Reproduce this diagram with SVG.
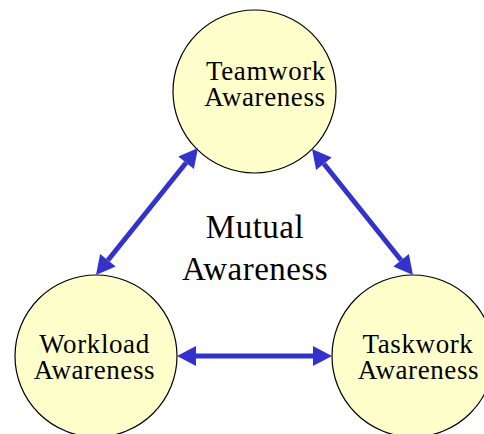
<svg xmlns="http://www.w3.org/2000/svg" width="484" height="434" viewBox="0 0 484 434">
  <style>
    .node { fill: #ffffcc; stroke: #000000; stroke-width: 1.2; }
    .label { font-family: "Liberation Serif", "Times New Roman", serif; font-size: 27px; letter-spacing: 0.6px; fill: #000000; text-anchor: middle; }
    .title { font-family: "Liberation Serif", "Times New Roman", serif; font-size: 33px; letter-spacing: 0.5px; fill: #000000; text-anchor: middle; }
    .link { stroke: #3333cc; stroke-width: 5; fill: none; marker-start: url(#head); marker-end: url(#head); }
  </style>
  <defs>
    <marker id="head" markerUnits="userSpaceOnUse" markerWidth="20" markerHeight="22" viewBox="0 -11 20 22" refX="0" refY="0" orient="auto-start-reverse" overflow="visible">
      <path d="M0,-10 L19,0 L0,10 Z" fill="#3333cc"/>
    </marker>
  </defs>

  <rect width="484" height="434" fill="#ffffff"/>

  <g id="center-label">
    <text class="title" x="255" y="238">Mutual</text>
    <text class="title" x="255" y="280">Awareness</text>
  </g>

  <g id="teamwork">
    <circle class="node" cx="254.5" cy="91.5" r="81.5"/>
    <text class="label" x="266" y="80">Teamwork</text>
    <text class="label" x="265" y="106">Awareness</text>
  </g>

  <g id="workload">
    <circle class="node" cx="96" cy="356" r="81"/>
    <text class="label" x="94.5" y="353">Workload</text>
    <text class="label" x="94.5" y="379">Awareness</text>
  </g>

  <g id="taskwork">
    <circle class="node" cx="413" cy="356" r="81"/>
    <text class="label" x="418" y="353">Taskwork</text>
    <text class="label" x="418.5" y="379">Awareness</text>
  </g>

  <g id="connectors">
    <line class="link" x1="186.1" y1="162.8" x2="107.9" y2="260.2"/>
    <line class="link" x1="323.9" y1="163.8" x2="401.1" y2="260.2"/>
    <line class="link" x1="196" y1="356" x2="313" y2="356"/>
  </g>
</svg>
